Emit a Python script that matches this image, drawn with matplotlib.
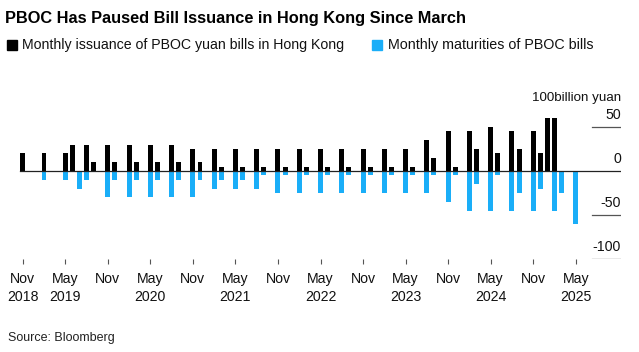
import matplotlib
matplotlib.use('Agg')
import matplotlib.pyplot as plt
import matplotlib.patches as mpatches
import matplotlib.transforms as mtrans
import pandas as pd

plt.rcParams['font.family'] = ['Liberation Sans', 'DejaVu Sans']

# ── Data (100 billion yuan) ─────────────────────────────────────────────
issue_months = ['2018-11', '2019-02', '2019-05', '2019-06', '2019-08', '2019-09',
                '2019-11', '2019-12', '2020-02', '2020-03', '2020-05', '2020-06',
                '2020-08', '2020-09', '2020-11', '2020-12', '2021-02', '2021-03',
                '2021-05', '2021-06', '2021-08', '2021-09', '2021-11', '2021-12',
                '2022-02', '2022-03', '2022-05', '2022-06', '2022-08', '2022-09',
                '2022-11', '2022-12', '2023-02', '2023-03', '2023-05', '2023-06',
                '2023-08', '2023-09', '2023-11', '2023-12', '2024-02', '2024-03',
                '2024-05', '2024-06', '2024-08', '2024-09', '2024-11', '2024-12',
                '2025-01', '2025-02']
issue_vals = [20, 20, 20, 30, 30, 10,
              30, 10, 30, 10, 30, 10,
              30, 10, 25, 10, 25, 5,
              25, 5, 25, 5, 25, 5,
              25, 5, 25, 5, 25, 5,
              25, 5, 25, 5, 25, 5,
              35, 15, 45, 5, 45, 25,
              50, 20, 45, 25, 45, 20,
              60, 60]

mat_months = ['2019-02', '2019-05', '2019-07', '2019-08', '2019-11', '2019-12',
              '2020-02', '2020-03', '2020-05', '2020-06', '2020-08', '2020-09',
              '2020-11', '2020-12', '2021-02', '2021-03', '2021-05', '2021-06',
              '2021-08', '2021-09', '2021-11', '2021-12', '2022-02', '2022-03',
              '2022-05', '2022-06', '2022-08', '2022-09', '2022-11', '2022-12',
              '2023-02', '2023-03', '2023-05', '2023-06', '2023-08', '2023-09',
              '2023-11', '2023-12', '2024-02', '2024-03', '2024-05', '2024-06',
              '2024-08', '2024-09', '2024-11', '2024-12', '2025-02', '2025-03',
              '2025-05']
mat_vals = [-10, -10, -20, -10, -30, -10,
            -30, -10, -30, -10, -30, -10,
            -30, -10, -20, -10, -20, -10,
            -20, -5, -25, -5, -25, -5,
            -25, -5, -25, -5, -25, -5,
            -25, -5, -25, -5, -25, -5,
            -35, -5, -45, -15, -45, -5,
            -45, -25, -45, -20, -45, -25,
            -60]

tick_months = ['2018-11', '2019-05', '2019-11', '2020-05', '2020-11', '2021-05',
               '2021-11', '2022-05', '2022-11', '2023-05', '2023-11', '2024-05',
               '2024-11', '2025-05']
tick_labels = ['Nov\n2018', 'May\n2019', 'Nov', 'May\n2020', 'Nov', 'May\n2021',
               'Nov', 'May\n2022', 'Nov', 'May\n2023', 'Nov', 'May\n2024',
               'Nov', 'May\n2025']
y_ticks = [50, 0, -50, -100]

start = pd.Period('2018-11', freq='M')

def month_pos(months):
    return [(pd.Period(m, freq='M') - start).n for m in months]

BLACK = '#000000'
BLUE = '#1AAEF8'
TXT = '#111111'

# ── Figure ───────────────────────────────────────────────────────────────
W, H = 639, 352
fig = plt.figure(figsize=(W / 100, H / 100), dpi=100, facecolor='white')

# axes in pixel terms: x 15..621, y 105..259
ax = fig.add_axes([15 / W, 1 - 259 / H, 606 / W, 154 / H])
ax.set_xlim(-1.09, 84.38)
ax.set_ylim(-100, 75)
for s in ax.spines.values():
    s.set_visible(False)

ax.bar(month_pos(issue_months), issue_vals, width=0.7, color=BLACK, zorder=3)
ax.bar(month_pos(mat_months), mat_vals, width=0.7, color=BLUE, zorder=3)

# zero line across, short stubs under the right-hand labels
ax.axhline(0, xmin=(20.3 - 15) / 606, xmax=1, color='#222222', lw=0.9, zorder=4)
for v in y_ticks:
    if v != 0:
        ax.axhline(v, xmin=(592 - 15) / 606, xmax=1, color='#555555', lw=0.9)

trans = mtrans.blended_transform_factory(ax.transAxes, ax.transData)
for v in y_ticks:
    ax.text(1.0, v + 14, f'{v}', transform=trans, ha='right', va='center',
            fontsize=10.2, color=TXT)
ax.text(1.0, 83, '100billion yuan', transform=trans, ha='right', va='center',
        fontsize=9.6, color=TXT)

# x ticks
ax.set_xticks(month_pos(tick_months))
ax.set_xticklabels(tick_labels, fontsize=10.2, color=TXT, linespacing=1.4, va='top')
ax.tick_params(axis='x', length=3.6, width=0.8, color='#555555', pad=5.5)
ax.set_yticks([])

# header
fig.text(5 / W, 1 - 19 / H, 'PBOC Has Paused Bill Issuance in Hong Kong Since March',
         fontsize=11.8, fontweight='bold', ha='left', va='center', color='#000000')
fig.patches.append(mpatches.Rectangle((7 / W, 1 - 50 / H), 10 / W, 10 / H,
                                      transform=fig.transFigure, color=BLACK))
fig.text(22 / W, 1 - 45 / H, 'Monthly issuance of PBOC yuan bills in Hong Kong',
         fontsize=10.2, ha='left', va='center', color=TXT)
fig.patches.append(mpatches.Rectangle((372 / W, 1 - 50 / H), 10 / W, 10 / H,
                                      transform=fig.transFigure, color=BLUE))
fig.text(388 / W, 1 - 45 / H, 'Monthly maturities of PBOC bills',
         fontsize=10.3, ha='left', va='center', color=TXT)

fig.text(8 / W, 1 - 338 / H, 'Source: Bloomberg', fontsize=9, ha='left', va='center',
         color='#222222')

plt.savefig('out.png', dpi=100, facecolor='white')
